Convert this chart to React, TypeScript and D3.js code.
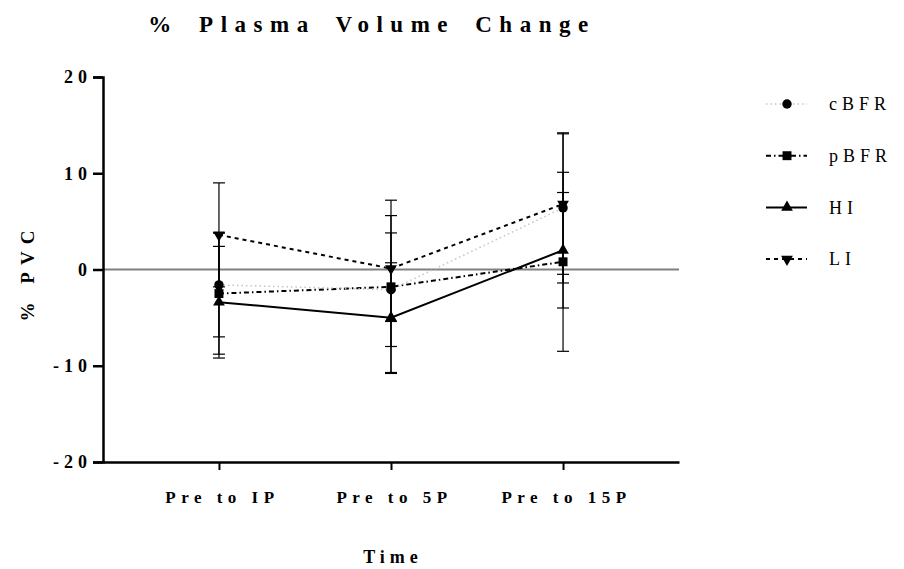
import { useRef, useEffect } from "react";
import * as d3 from "d3";

// time points
const categories = ["Pre to IP", "Pre to 5P", "Pre to 15P"];

// mean % plasma volume change and SD per group
const cBFR = [-1.6, -2.1, 6.4];
const cBFRsd = [5.4, 5.9, 7.8];
const pBFR = [-2.5, -1.8, 0.8];
const pBFRsd = [6.3, 9.0, 9.3];
const HI = [-3.4, -5.0, 2.0];
const HIsd = [5.8, 5.7, 6.0];
const LI = [3.6, 0.1, 6.8];
const LIsd = [5.4, 5.5, 7.3];

const yTicks = [-20, -10, 0, 10, 20];

export default function App() {
  const ref = useRef<SVGSVGElement>(null);

  useEffect(() => {
    const svg = d3.select(ref.current);
    const width = 904;
    const height = 569;
    const left = 103, right = 679, top = 77, bottom = 462;
    const font = "'Liberation Serif', 'Times New Roman', serif";

    svg.selectAll("*").remove();
    svg.attr("viewBox", `0 0 ${width} ${height}`);
    svg.append("rect").attr("width", width).attr("height", height).attr("fill", "#fff");

    const x = d3.scalePoint<string>().domain(categories).range([left, right]).padding(0.674);
    const y = d3.scaleLinear().domain([-20, 20]).range([bottom, top]);

    const series = [
      { name: "cBFR", mean: cBFR, sd: cBFRsd, dash: "1.5,3", color: "#c4c4c4", width: 1.5, symbol: d3.symbolCircle, size: 70, rot: 0 },
      { name: "pBFR", mean: pBFR, sd: pBFRsd, dash: "5,3,1.5,3", color: "#000", width: 2, symbol: d3.symbolSquare, size: 80, rot: 0 },
      { name: "HI", mean: HI, sd: HIsd, dash: null, color: "#000", width: 2, symbol: d3.symbolTriangle, size: 60, rot: 0 },
      { name: "LI", mean: LI, sd: LIsd, dash: "4,4", color: "#000", width: 2, symbol: d3.symbolTriangle, size: 60, rot: 180 },
    ];

    // zero line
    svg.append("line")
      .attr("x1", left).attr("x2", right)
      .attr("y1", y(0)).attr("y2", y(0))
      .attr("stroke", "#808080").attr("stroke-width", 2);

    // axes
    const yAxis = svg.append("g").attr("transform", `translate(${left},0)`)
      .call(d3.axisLeft(y).tickValues(yTicks).tickSize(10).tickFormat((d) => String(d)));
    yAxis.select(".domain").attr("stroke-width", 2.5);
    yAxis.selectAll(".tick line").attr("stroke-width", 2.5);
    yAxis.selectAll(".tick text")
      .attr("x", -11)
      .attr("font-family", font).attr("font-size", 18).attr("font-weight", "bold")
      .attr("letter-spacing", 5).attr("fill", "#000");

    const xAxis = svg.append("g").attr("transform", `translate(0,${bottom})`)
      .call(d3.axisBottom(x).tickSize(8).tickSizeOuter(0));
    xAxis.select(".domain").attr("stroke-width", 2.5);
    xAxis.selectAll(".tick line").attr("stroke-width", 2);
    xAxis.selectAll(".tick text")
      .attr("y", 29).attr("dx", 3)
      .attr("font-family", font).attr("font-size", 17).attr("font-weight", "bold")
      .attr("letter-spacing", 5.5).attr("fill", "#000");

    // error bars (drawn behind lines)
    const eb = svg.append("g");
    series.forEach((s) => {
      categories.forEach((c, i) => {
        const cx = x(c)!;
        const hi = y(s.mean[i] + s.sd[i]);
        const lo = y(s.mean[i] - s.sd[i]);
        eb.append("line").attr("x1", cx).attr("x2", cx).attr("y1", hi).attr("y2", lo)
          .attr("stroke", "#000").attr("stroke-width", 1.2);
        [hi, lo].forEach((yy) => {
          eb.append("line").attr("x1", cx - 6).attr("x2", cx + 6).attr("y1", yy).attr("y2", yy)
            .attr("stroke", "#000").attr("stroke-width", 1.2);
        });
      });
    });

    const line = d3.line<number>().x((_, i) => x(categories[i])!).y((d) => y(d));

    series.slice().reverse().forEach((s) => {
      svg.append("path").attr("d", line(s.mean))
        .attr("fill", "none").attr("stroke", s.color).attr("stroke-width", s.width)
        .attr("stroke-dasharray", s.dash);
      const sym = d3.symbol().type(s.symbol).size(s.size);
      svg.append("g").selectAll("path").data(s.mean).join("path")
        .attr("d", sym()!)
        .attr("transform", (d, i) => `translate(${x(categories[i])},${y(d)}) rotate(${s.rot})`)
        .attr("fill", "#000");
    });

    // legend
    const lg = svg.append("g");
    series.forEach((s, i) => {
      const ly = 104 + i * 51.7;
      lg.append("line").attr("x1", 766).attr("x2", 807).attr("y1", ly).attr("y2", ly)
        .attr("stroke", s.color).attr("stroke-width", s.width).attr("stroke-dasharray", s.dash);
      lg.append("path").attr("d", d3.symbol().type(s.symbol).size(s.size)()!)
        .attr("transform", `translate(787,${ly}) rotate(${s.rot})`).attr("fill", "#000");
      lg.append("text").attr("x", 829).attr("y", ly).attr("dy", "0.35em")
        .attr("font-family", font).attr("font-size", 18).attr("letter-spacing", 5)
        .text(s.name);
    });

    // titles
    svg.append("text").attr("x", 372).attr("y", 24).attr("dy", "0.35em").attr("text-anchor", "middle")
      .attr("font-family", font).attr("font-size", 23).attr("font-weight", "bold")
      .attr("letter-spacing", 7.5).attr("word-spacing", 7)
      .text("% Plasma Volume Change");
    svg.append("text").attr("x", 393).attr("y", 557).attr("dy", "0.35em").attr("text-anchor", "middle")
      .attr("font-family", font).attr("font-size", 18).attr("font-weight", "bold").attr("letter-spacing", 5)
      .text("Time");
    svg.append("text").attr("transform", `translate(27,${y(0) + 3}) rotate(-90)`).attr("dy", "0.35em")
      .attr("text-anchor", "middle")
      .attr("font-family", font).attr("font-size", 19).attr("font-weight", "bold").attr("letter-spacing", 7)
      .text("% PVC");
  }, []);

  return <svg ref={ref} width={904} height={569} style={{ position: "absolute", left: 0, top: 0 }} />;
}
